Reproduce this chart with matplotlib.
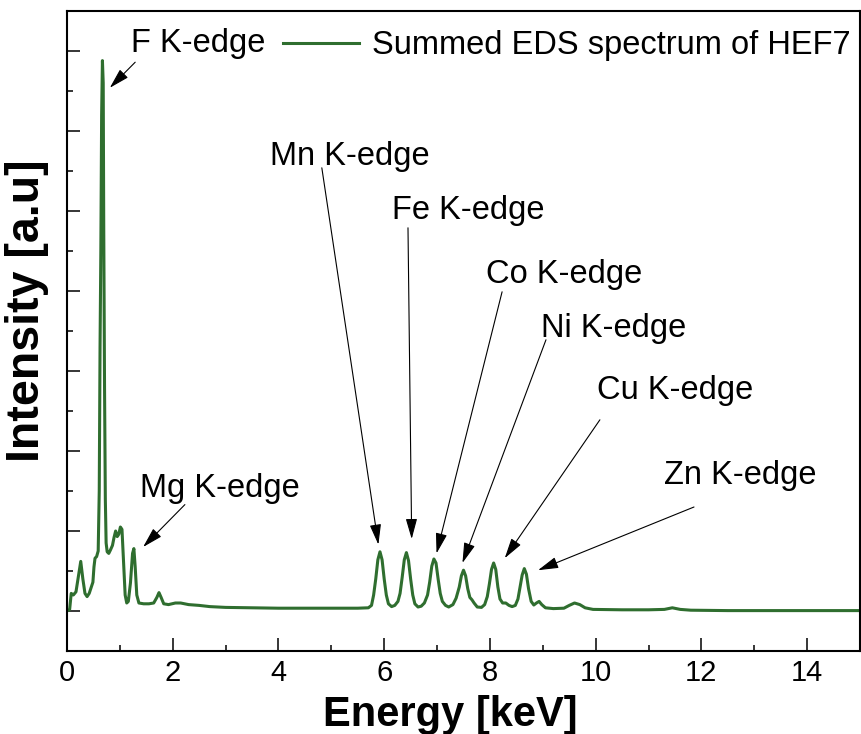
import matplotlib
matplotlib.use('Agg')
import matplotlib.pyplot as plt
from matplotlib import font_manager
from matplotlib.ticker import MultipleLocator

#===============================================================================
# Summed EDS spectrum (energy in keV, intensity in arbitrary units)
#===============================================================================
energy = [0.00, 0.05, 0.08, 0.12, 0.17, 0.22, 0.26, 0.30, 0.34, 0.38, 0.42, 0.46,
          0.49, 0.51, 0.53, 0.56, 0.59, 0.61, 0.625, 0.64, 0.655, 0.67, 0.685, 0.695,
          0.71, 0.725, 0.74, 0.76, 0.79, 0.82, 0.86, 0.89, 0.92, 0.95, 0.98, 1.01,
          1.04, 1.07, 1.10, 1.13, 1.16, 1.20, 1.24, 1.265, 1.29, 1.32, 1.36, 1.45,
          1.55, 1.64, 1.70, 1.74, 1.78, 1.83, 1.92, 2.05, 2.15, 2.30, 2.50, 2.70,
          3.00, 3.50, 4.00, 4.50, 5.00, 5.50, 5.70,
          5.76, 5.80, 5.84, 5.88, 5.92, 5.96, 6.00, 6.04, 6.08, 6.14, 6.20,
          6.26, 6.30, 6.34, 6.38, 6.42, 6.46, 6.50, 6.54, 6.58, 6.64, 6.70,
          6.76, 6.82, 6.86, 6.90, 6.94, 6.98, 7.02, 7.06, 7.10, 7.16, 7.22,
          7.30, 7.36, 7.42, 7.46, 7.50, 7.54, 7.58, 7.62, 7.66, 7.70, 7.76, 7.84,
          7.90, 7.95, 7.99, 8.03, 8.07, 8.11, 8.15, 8.19, 8.24, 8.30, 8.36, 8.42,
          8.48, 8.53, 8.57, 8.61, 8.65, 8.69, 8.73, 8.78, 8.83, 8.88, 8.93, 8.98,
          9.05, 9.20, 9.40, 9.50, 9.60, 9.70, 9.80, 9.95, 10.50, 11.00, 11.30,
          11.45, 11.60, 11.80, 12.50, 15.00]
intensity = [0.00, 0.02, 0.22, 0.20, 0.24, 0.45, 0.62, 0.40, 0.22, 0.18, 0.22, 0.30,
             0.36, 0.55, 0.66, 0.68, 0.75, 1.50, 3.30, 4.50, 6.20, 6.88, 6.60, 4.80,
             2.80, 1.40, 0.85, 0.74, 0.72, 0.76, 0.82, 0.92, 1.00, 0.93, 0.96, 1.05,
             1.02, 0.60, 0.20, 0.10, 0.12, 0.35, 0.72, 0.78, 0.55, 0.20, 0.10, 0.09,
             0.09, 0.10, 0.17, 0.23, 0.17, 0.09, 0.08, 0.10, 0.10, 0.08, 0.07, 0.055,
             0.045, 0.04, 0.035, 0.035, 0.035, 0.035, 0.04,
             0.07, 0.20, 0.40, 0.64, 0.74, 0.64, 0.40, 0.20, 0.09, 0.055, 0.07,
             0.12, 0.22, 0.42, 0.64, 0.73, 0.63, 0.40, 0.20, 0.09, 0.05, 0.06,
             0.10, 0.20, 0.36, 0.56, 0.65, 0.60, 0.40, 0.22, 0.12, 0.07, 0.05,
             0.08, 0.16, 0.30, 0.44, 0.51, 0.44, 0.28, 0.17, 0.14, 0.10, 0.05, 0.045,
             0.08, 0.18, 0.34, 0.52, 0.60, 0.52, 0.30, 0.15, 0.10, 0.10, 0.07, 0.055,
             0.07, 0.15, 0.30, 0.45, 0.53, 0.46, 0.28, 0.12, 0.075, 0.10, 0.12, 0.08,
             0.04, 0.03, 0.035, 0.07, 0.10, 0.08, 0.04, 0.02, 0.015, 0.015, 0.02,
             0.04, 0.02, 0.01, 0.005, 0.005]

# peak labels: text, arrow tip (E, I), arrow tail (E, I), text anchor (E, I)
labels = ['F K-edge', 'Mg K-edge', 'Mn K-edge', 'Fe K-edge', 'Co K-edge',
          'Ni K-edge', 'Cu K-edge', 'Zn K-edge']
tips = [(0.81, 6.54), (1.44, 0.80), (5.89, 0.83), (6.52, 0.90), (6.99, 0.72),
        (7.48, 0.60), (8.28, 0.66), (8.91, 0.51)]
tails = [(1.29, 6.86), (2.23, 1.33), (4.82, 5.54), (6.45, 4.79), (8.23, 3.99),
         (9.06, 3.39), (10.08, 2.39), (11.86, 1.30)]
text_pos = [(1.21, 7.09), (1.38, 1.53), (3.84, 5.68), (6.15, 5.00), (7.93, 4.21),
            (8.97, 3.53), (10.02, 2.75), (11.29, 1.69)]

#===============================================================================
# Fonts
#===============================================================================
names = set(f.name for f in font_manager.fontManager.ttflist)
main_font = 'Liberation Sans'
tick_font = 'Liberation Sans Narrow' if 'Liberation Sans Narrow' in names else 'Liberation Sans'
plt.rcParams['font.family'] = [main_font, 'DejaVu Sans']

#===============================================================================
# Plot
#===============================================================================
fig = plt.figure(figsize=(8.62, 7.34), dpi=100)
ax = fig.add_axes([67/862, 83/734, 793/862, 640/734])

ax.plot(energy, intensity, color='#2f6e2f', lw=2.2, label='Summed EDS spectrum of HEF7')

for lab, tip, tail, pos in zip(labels, tips, tails, text_pos):
    ax.annotate('', xy=tip, xytext=tail,
                arrowprops=dict(arrowstyle='-|>,head_length=1.25,head_width=0.35',
                                color='black', lw=0.8, shrinkA=0, shrinkB=0))
    ax.text(pos[0], pos[1], lab, fontsize=23.5, ha='left', va='center')

ax.set_xlim(0, 15)
ax.set_ylim(-0.5, 7.5)
ax.xaxis.set_major_locator(MultipleLocator(2))
ax.xaxis.set_minor_locator(MultipleLocator(1))
ax.yaxis.set_major_locator(MultipleLocator(1))
ax.yaxis.set_minor_locator(MultipleLocator(0.5))
ax.tick_params(which='major', direction='in', length=9.5, width=1.1, labelsize=21, pad=6)
ax.tick_params(which='minor', direction='in', length=4.5, width=1.1)
ax.tick_params(axis='y', labelleft=False)
for lbl in ax.get_xticklabels():
    lbl.set_family(tick_font)
for sp in ax.spines.values():
    sp.set_linewidth(1.5)

ax.set_xlabel('Energy [keV]', fontsize=30, fontweight='bold')
ax.xaxis.set_label_coords((450 - 67) / 793, -0.068)
ax.set_ylabel('Intensity [a.u]', fontsize=33.5, fontweight='bold')
ax.yaxis.set_label_coords(-0.023, (651 - 311) / 640)

leg = ax.legend(loc='upper right', bbox_to_anchor=(1.0, 0.985), frameon=False,
                fontsize=23.5, handlelength=2.3, handletextpad=0.4,
                borderpad=0.1, borderaxespad=0.2)

fig.savefig('out.png', dpi=100)
